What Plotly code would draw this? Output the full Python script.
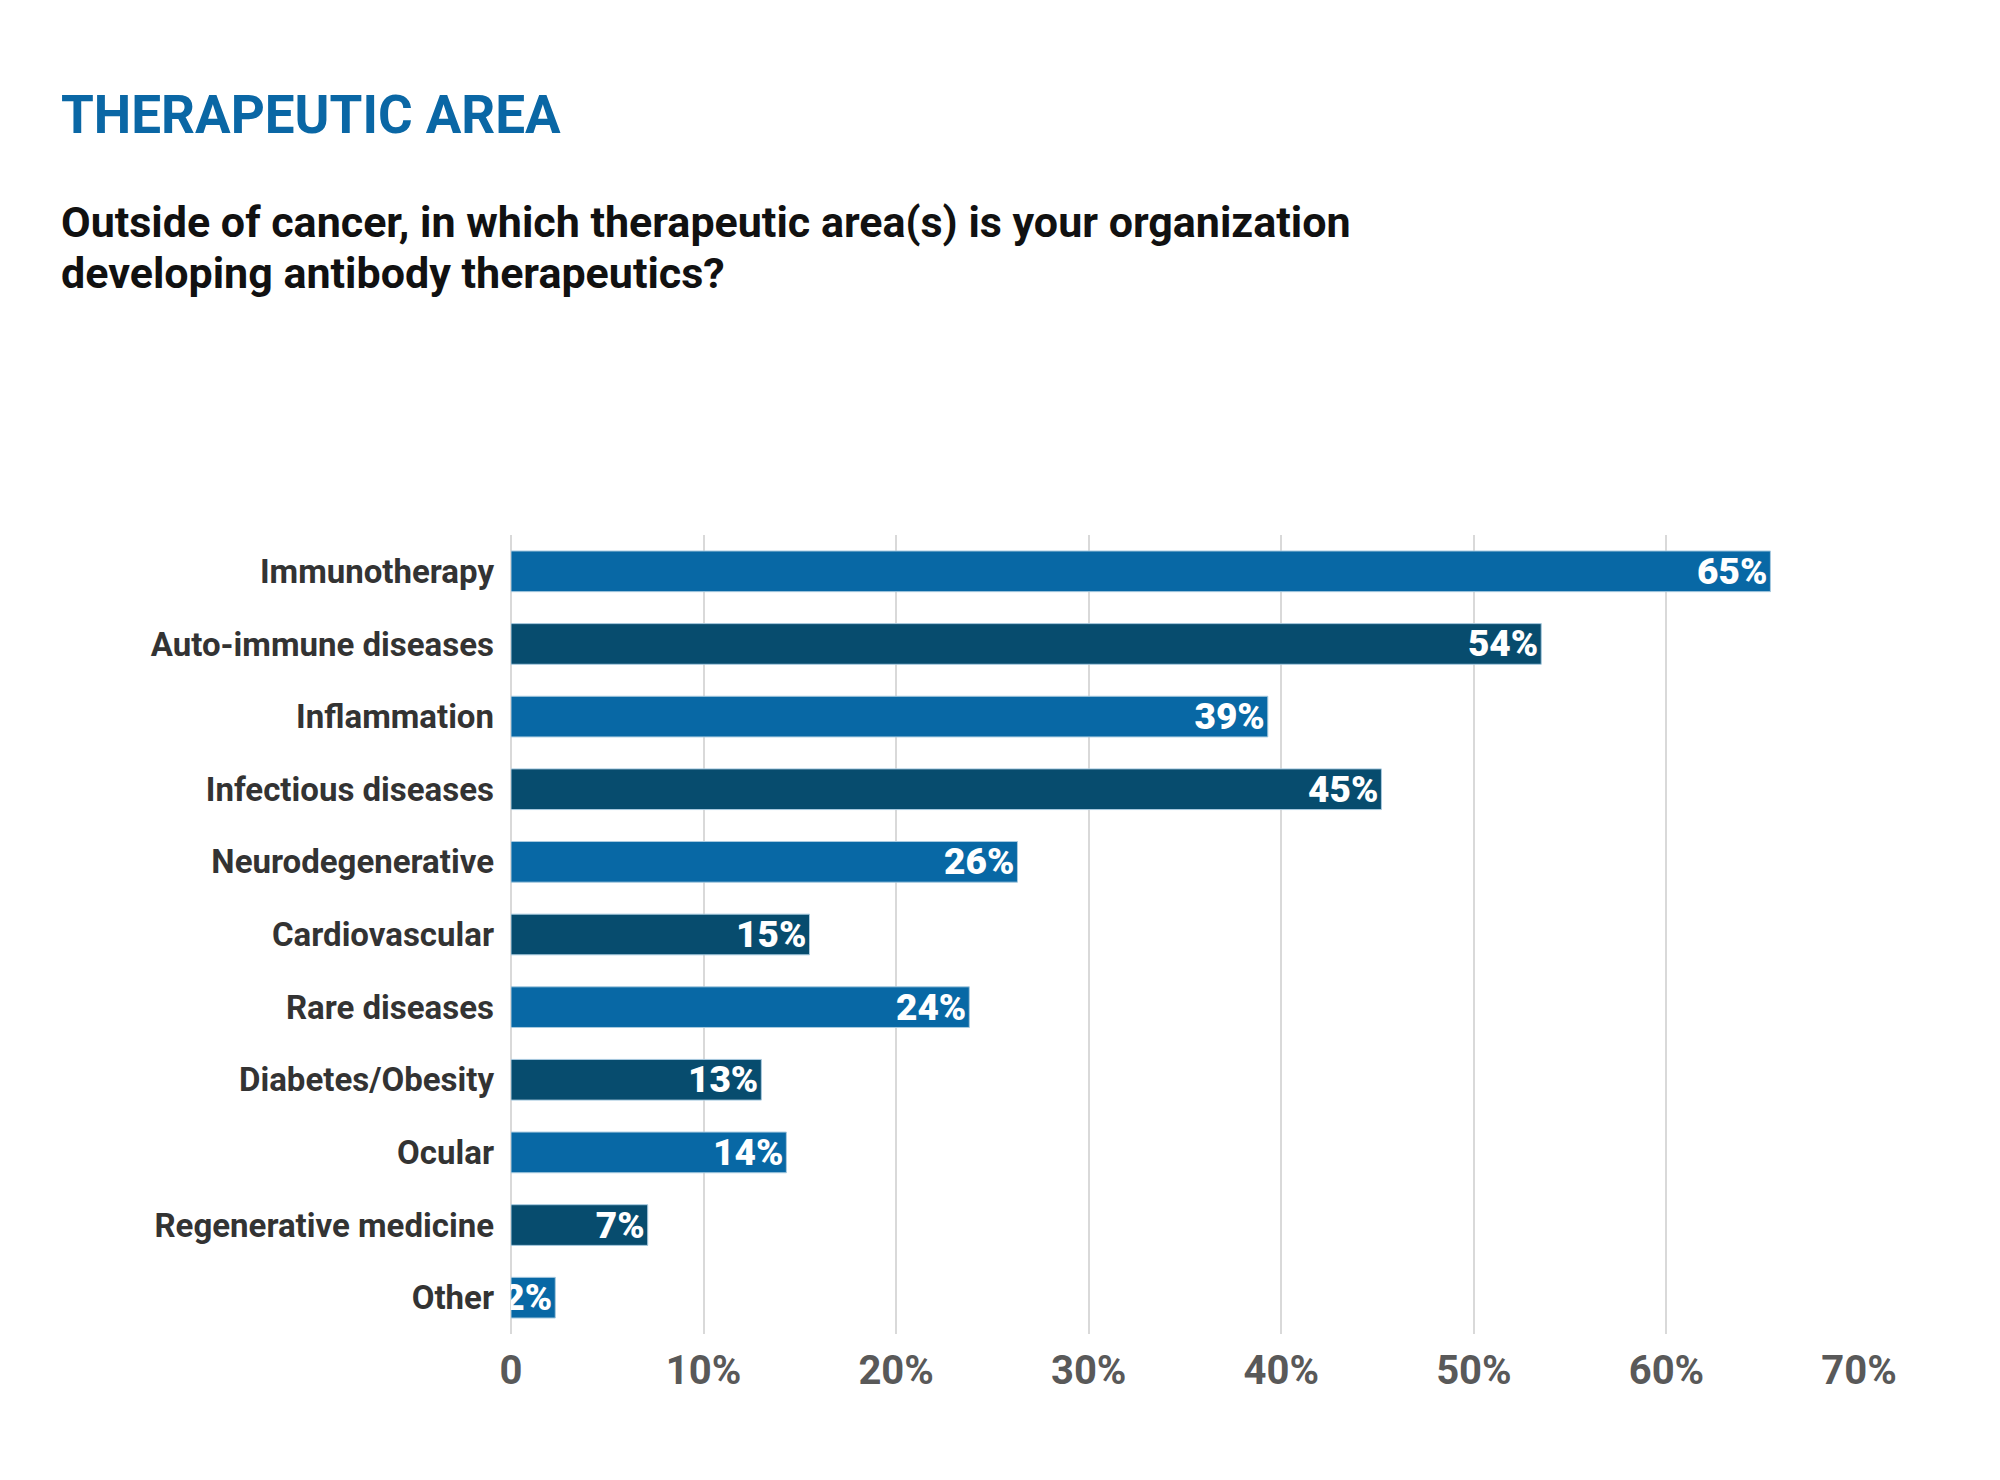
import plotly.graph_objects as go

categories = ["Immunotherapy", "Auto-immune diseases", "Inflammation", "Infectious diseases",
              "Neurodegenerative", "Cardiovascular", "Rare diseases", "Diabetes/Obesity",
              "Ocular", "Regenerative medicine", "Other"]
values = [65.4, 53.5, 39.3, 45.2, 26.3, 15.5, 23.8, 13.0, 14.3, 7.1, 2.3]
pct_labels = ["65%", "54%", "39%", "45%", "26%", "15%", "24%", "13%", "14%", "7%", "2%"]
x_tickvals = [0, 10, 20, 30, 40, 50, 60, 70]
x_ticktext = ["0", "10%", "20%", "30%", "40%", "50%", "60%", "70%"]

LIGHT = "#0868A5"
DARK = "#074C6E"
colors = [LIGHT if i % 2 == 0 else DARK for i in range(len(categories))]

fig = go.Figure(go.Bar(
    x=values, y=categories, orientation="h",
    marker=dict(color=colors, line=dict(color="#a9cbe0", width=1)),
    text=pct_labels, textposition="inside", insidetextanchor="end",
    textangle=0, constraintext="none",
    textfont=dict(family="Roboto", size=37, color="white", weight=900),
    hoverinfo="skip",
))

W, H = 2000, 1480
L, R, T, B = 503, 149, 527, 154
pw, ph = W - L - R, H - T - B

def px(x):
    return (x - L) / pw

def py(y):
    return (H - B - y) / ph

fig.update_layout(
    width=W, height=H,
    margin=dict(l=L, r=R, t=T, b=B),
    paper_bgcolor="white", plot_bgcolor="white",
    bargap=0.44, showlegend=False,
    font=dict(family="Roboto"),
    annotations=[
        dict(text="THERAPEUTIC AREA", xref="paper", yref="paper", x=px(51), y=py(107),
             xanchor="left", yanchor="middle", showarrow=False,
             font=dict(family="Roboto", size=53, color="#0A67A5", weight="bold")),
        dict(text="Outside of cancer, in which therapeutic area(s) is your organization",
             xref="paper", yref="paper", x=px(51), y=py(214), align="left",
             xanchor="left", yanchor="middle", showarrow=False,
             font=dict(family="Roboto", size=43, color="#111111", weight="bold")),
        dict(text="developing antibody therapeutics?",
             xref="paper", yref="paper", x=px(51), y=py(265), align="left",
             xanchor="left", yanchor="middle", showarrow=False,
             font=dict(family="Roboto", size=43, color="#111111", weight="bold")),
    ],
)
fig.update_xaxes(range=[0, 70], tickvals=x_tickvals, ticktext=x_ticktext,
                 showgrid=True, gridcolor="#d9d9d9", gridwidth=2,
                 zeroline=True, zerolinecolor="#d9d9d9", zerolinewidth=2,
                 showline=False, ticks="", ticklabelstandoff=9,
                 tickfont=dict(family="Roboto", size=40, color="#595959", weight="bold"),
                 fixedrange=True)
fig.update_yaxes(autorange="reversed", showgrid=False, showline=False, ticks="",
                 ticklabelstandoff=16,
                 tickfont=dict(family="Roboto", size=33, color="#333333", weight="bold"),
                 fixedrange=True)

fig.write_html("out.html")
